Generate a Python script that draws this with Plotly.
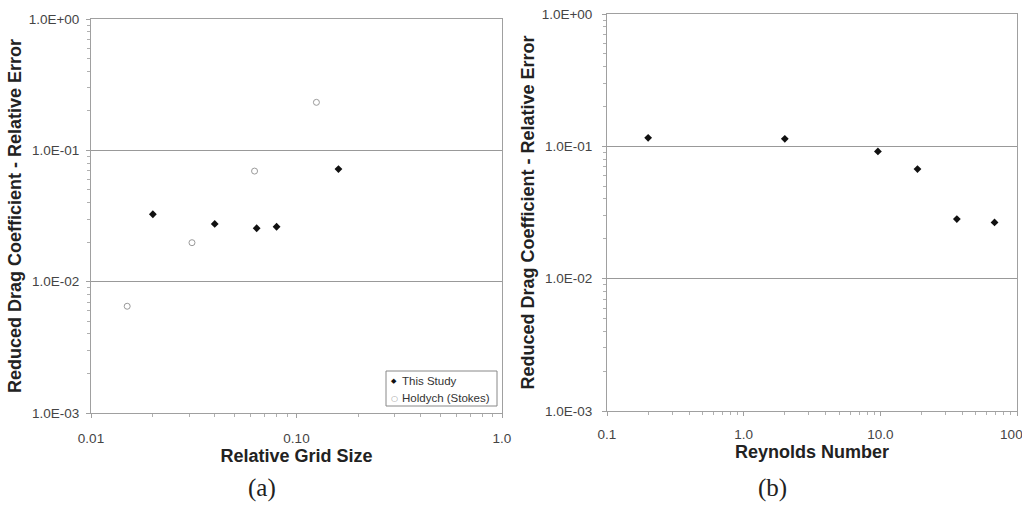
import plotly.graph_objects as go

# (a) grid refinement study
grid_size_this = [0.02, 0.04, 0.064, 0.08, 0.16]
error_this = [0.0326, 0.0275, 0.0255, 0.0262, 0.072]
grid_size_holdych = [0.015, 0.031, 0.0625, 0.125]
error_holdych = [0.0065, 0.0198, 0.0695, 0.232]

# (b) Reynolds number study
reynolds = [0.2, 2.0, 9.6, 18.7, 36.3, 68.5]
error_re = [0.116, 0.114, 0.0916, 0.0673, 0.0282, 0.0266]

y_tickvals = [1e-3, 1e-2, 1e-1, 1.0]
y_ticktext = ["1.0E-03", "1.0E-02", "1.0E-01", "1.0E+00"]
xa_tickvals = [0.01, 0.1, 1.0]
xa_ticktext = ["0.01", "0.10", "1.0"]
xb_tickvals = [0.1, 1.0, 10.0, 100.0]
xb_ticktext = ["0.1", "1.0", "10.0", "100.0"]

legend_names = ["This Study", "Holdych (Stokes)"]

FONT = "Liberation Sans, Arial, sans-serif"
SERIF = "Liberation Serif, DejaVu Serif, serif"
AXIS_GRAY = "#a0a0a0"
GRID_GRAY = "#999999"
TICK_COLOR = "#444444"
TITLE_COLOR = "#222222"
THIS_COLOR = "#111111"
HOLD_COLOR = "#9a9a9a"


def minor_vals(lo, hi):
    vals = []
    for e in range(lo, hi):
        for k in range(2, 10):
            vals.append(k * 10 ** e)
    return vals


fig = go.Figure()

fig.add_trace(go.Scatter(
    x=grid_size_this, y=error_this, mode="markers", name=legend_names[0],
    marker=dict(symbol="diamond", size=6, color=THIS_COLOR),
    xaxis="x", yaxis="y", showlegend=False,
))
fig.add_trace(go.Scatter(
    x=grid_size_holdych, y=error_holdych, mode="markers", name=legend_names[1],
    marker=dict(symbol="circle-open", size=6, color=HOLD_COLOR, line=dict(width=1)),
    xaxis="x", yaxis="y", showlegend=False,
))
fig.add_trace(go.Scatter(
    x=reynolds, y=error_re, mode="markers", name="Reynolds",
    marker=dict(symbol="diamond", size=6, color=THIS_COLOR),
    xaxis="x2", yaxis="y2", showlegend=False,
))

common_axis = dict(
    type="log",
    automargin=False,
    showline=True, linecolor=AXIS_GRAY, linewidth=1, mirror=True,
    ticks="outside", ticklen=4, tickcolor=AXIS_GRAY,
    tickfont=dict(family=FONT, size=13.5, color=TICK_COLOR),
    zeroline=False,
    ticklabeloverflow="allow",
)
minor_style = dict(tickmode="array", ticks="outside", ticklen=3,
                   tickcolor="#b0b0b0", showgrid=False)

ytitle = "Reduced Drag Coefficient - Relative Error"
title_font = dict(family=FONT, size=18, color=TITLE_COLOR)

# boxed key inside panel (a), lower right corner
LX0, LX1, LY0, LY1 = 386 / 1022, 497 / 1022, (506 - 406) / 506, (506 - 371) / 506
key_rows = [(506 - 381) / 506, (506 - 398) / 506]
key_symbols = ["◆", "○"]
key_colors = [THIS_COLOR, HOLD_COLOR]

annotations = []
for name, sym, col, ky in zip(legend_names, key_symbols, key_colors, key_rows):
    annotations.append(dict(text=sym, x=394 / 1022, y=ky, xref="paper", yref="paper",
                            showarrow=False, xanchor="center", yanchor="middle",
                            font=dict(family="DejaVu Sans", size=7 if sym == "◆" else 8, color=col)))
    annotations.append(dict(text=name, x=400 / 1022, y=ky, xref="paper", yref="paper",
                            showarrow=False, xanchor="left", yanchor="middle",
                            font=dict(family=FONT, size=11.5, color="#333333")))
for lab, cx in [("(a)", 262), ("(b)", 772)]:
    annotations.append(dict(text=lab, x=cx / 1022, y=(506 - 488) / 506, xref="paper", yref="paper",
                            showarrow=False, xanchor="center", yanchor="middle",
                            font=dict(family=SERIF, size=25, color=TITLE_COLOR)))

fig.update_layout(
    width=1022, height=506,
    margin=dict(l=0, r=0, t=0, b=0),
    paper_bgcolor="white", plot_bgcolor="white",
    font=dict(family=FONT, color=TITLE_COLOR),
    showlegend=False,
    xaxis=dict(
        common_axis, domain=[91 / 1022, 502 / 1022], range=[-2, 0],
        tickvals=xa_tickvals, ticktext=xa_ticktext, tickmode="array",
        ticklabelstandoff=9,
        showgrid=False, anchor="y",
        minor=dict(minor_style, tickvals=minor_vals(-2, 0)),
        title=dict(text="<b>Relative Grid Size</b>", standoff=2, font=title_font),
    ),
    yaxis=dict(
        common_axis, domain=[(506 - 413) / 506, (506 - 19) / 506], range=[-3, 0],
        tickvals=y_tickvals, ticktext=y_ticktext, tickmode="array",
        ticklabelstandoff=4,
        showgrid=True, gridcolor=GRID_GRAY, gridwidth=1, anchor="x",
        minor=dict(minor_style, tickvals=minor_vals(-3, 0)),
        title=dict(text="<b>" + ytitle + "</b>", standoff=2, font=title_font),
    ),
    xaxis2=dict(
        common_axis, domain=[607 / 1022, 1017 / 1022], range=[-1, 2],
        tickvals=xb_tickvals, ticktext=xb_ticktext, tickmode="array",
        ticklabelstandoff=7,
        showgrid=False, anchor="y2",
        minor=dict(minor_style, tickvals=minor_vals(-1, 2)),
        title=dict(text="<b>Reynolds Number</b>", standoff=2, font=title_font),
    ),
    yaxis2=dict(
        common_axis, domain=[(506 - 411) / 506, (506 - 14) / 506], range=[-3, 0],
        tickvals=y_tickvals, ticktext=y_ticktext, tickmode="array",
        ticklabelstandoff=7,
        showgrid=True, gridcolor=GRID_GRAY, gridwidth=1, anchor="x2",
        minor=dict(minor_style, tickvals=minor_vals(-3, 0)),
        title=dict(text="<b>" + ytitle + "</b>", standoff=2, font=title_font),
    ),
    shapes=[dict(type="rect", xref="paper", yref="paper",
                 x0=LX0, x1=LX1, y0=LY0, y1=LY1,
                 line=dict(color="#888888", width=1), fillcolor="white", layer="above")],
    annotations=annotations,
)

fig.write_html("out.html")
